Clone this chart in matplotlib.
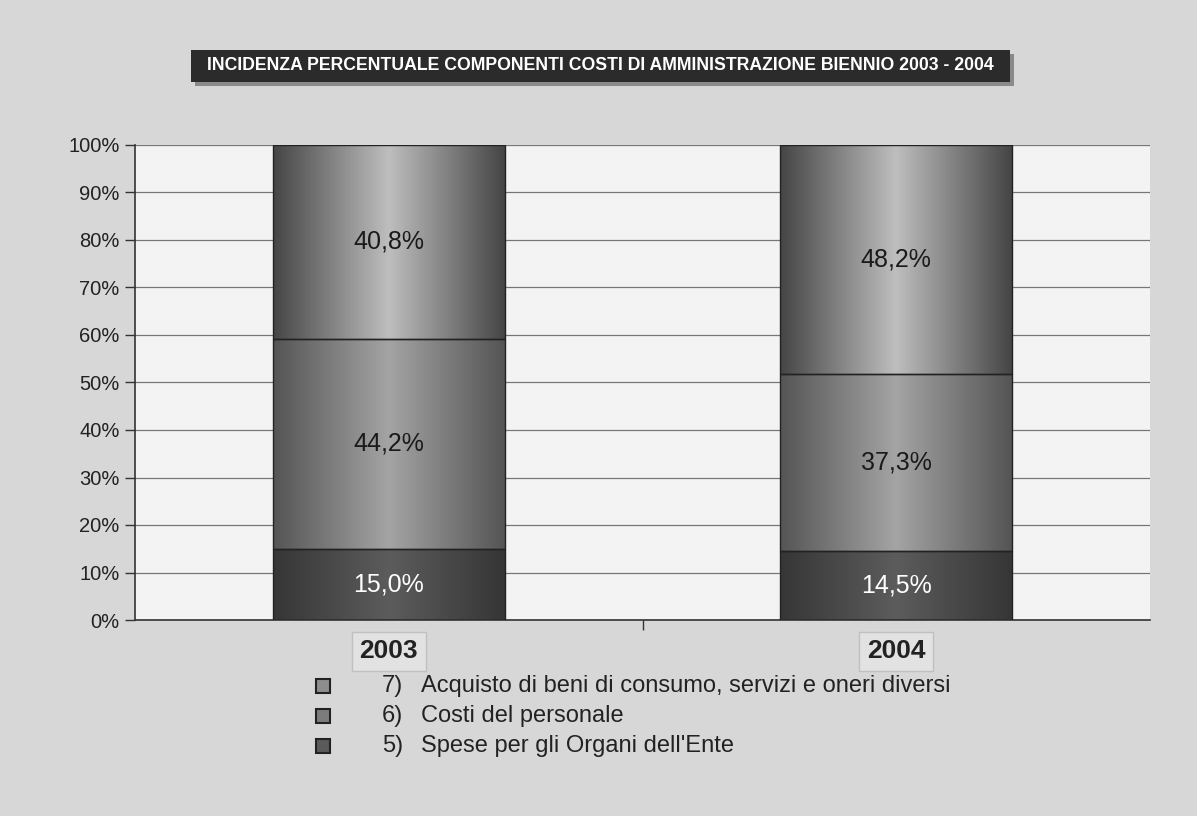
import numpy as np
import matplotlib
matplotlib.use("Agg")
import matplotlib.pyplot as plt
from matplotlib.colors import LinearSegmentedColormap
from matplotlib.patches import Rectangle

# dati
anni = ["2003", "2004"]
organi = [15.0, 14.5]          # 5) Spese per gli Organi dell'Ente
personale = [44.2, 37.3]       # 6) Costi del personale
acquisti = [40.8, 48.2]        # 7) Acquisto di beni di consumo, servizi e oneri diversi
voci = ["5)", "6)", "7)"]
etichette = ["Spese per gli Organi dell'Ente",
             "Costi del personale",
             "Acquisto di beni di consumo, servizi e oneri diversi"]

plt.rcParams['font.family'] = ['Liberation Sans', 'DejaVu Sans']

# sfumature orizzontali (bordi scuri, centro chiaro)
cmaps = [
    LinearSegmentedColormap.from_list("c5", ["#363636", "#5c5c5c", "#363636"]),
    LinearSegmentedColormap.from_list("c6", ["#555555", "#a4a4a4", "#555555"]),
    LinearSegmentedColormap.from_list("c7", ["#464646", "#bebebe", "#464646"]),
]
colori_testo = ["white", "#1a1a1a", "#1a1a1a"]
colori_legenda = ["#5a5a5a", "#7c7c7c", "#8e8e8e"]

fig = plt.figure(figsize=(11.97, 8.16), dpi=100)
fig.patch.set_facecolor("#d7d7d7")

W, H = 1197, 816
ax = fig.add_axes([135 / W, 1 - 620 / H, 1015 / W, 475 / H])
ax.set_facecolor("#f3f3f3")

x = np.arange(len(anni))
serie = [organi, personale, acquisti]
base = np.zeros(len(anni))
grad = np.linspace(0, 1, 200).reshape(1, -1)
for valori, cmap, ct in zip(serie, cmaps, colori_testo):
    barre = ax.bar(x, valori, width=0.457, bottom=base, color="none",
                   edgecolor="#222222", linewidth=1.0, zorder=3)
    for b, v in zip(barre, valori):
        x0, y0 = b.get_x(), b.get_y()
        im = ax.imshow(grad, cmap=cmap, aspect="auto", zorder=2,
                       extent=[x0, x0 + b.get_width(), y0, y0 + b.get_height()])
        im.set_clip_path(b)
        ax.text(x0 + b.get_width() / 2, y0 + v / 2, f"{v:.1f}%".replace(".", ","),
                ha="center", va="center", fontsize=18, color=ct, zorder=4)
    base = base + np.array(valori)

ax.set_xlim(-0.5, 1.5)
ax.set_ylim(0, 100)
ax.set_yticks(np.arange(0, 101, 10))
ax.set_yticklabels([f"{v}%" for v in range(0, 101, 10)], fontsize=14.5, color="#222222")
ax.yaxis.grid(True, color="#777777", linewidth=0.9, zorder=1)
ax.tick_params(axis="y", length=7, width=1, color="#333333", pad=4)

ax.set_xticks(x)
ax.set_xticklabels(anni, fontsize=19, fontweight="bold", color="#222222")
ax.tick_params(axis="x", which="major", length=0, pad=14)
for t in ax.get_xticklabels():
    t.set_bbox(dict(facecolor="#e2e2e2", edgecolor="#c0c0c0", boxstyle="square,pad=0.3"))
ax.set_xticks([0.5], minor=True)
ax.tick_params(axis="x", which="minor", length=7, width=1, color="#333333")

for s in ["top", "right"]:
    ax.spines[s].set_visible(False)
for s in ["left", "bottom"]:
    ax.spines[s].set_color("#333333")
    ax.spines[s].set_linewidth(1.2)

# titolo in riquadro scuro con ombra
fig.patches.append(Rectangle((195 / W, 1 - 86 / H), 819 / W, 32 / H,
                             transform=fig.transFigure, facecolor="#8a8a8a", edgecolor="none"))
fig.patches.append(Rectangle((191 / W, 1 - 82 / H), 819 / W, 32 / H,
                             transform=fig.transFigure, facecolor="#2b2b2b", edgecolor="none"))
fig.text(600 / W, 1 - 66 / H,
         "INCIDENZA PERCENTUALE COMPONENTI COSTI DI AMMINISTRAZIONE BIENNIO 2003 - 2004",
         ha="center", va="center", fontsize=12.7, fontweight="bold", color="white")

# legenda
righe_y = [746, 716, 686]
for i in range(len(voci)):
    yy = righe_y[i]
    fig.patches.append(Rectangle((316 / W, 1 - (yy + 7) / H), 14 / W, 14 / H,
                                 transform=fig.transFigure, facecolor=colori_legenda[i],
                                 edgecolor="#222222", linewidth=1.5))
    fig.text(403 / W, 1 - yy / H, voci[i], ha="right", va="center",
             fontsize=17, color="#222222")
    fig.text(421 / W, 1 - yy / H, etichette[i], ha="left", va="center",
             fontsize=17, color="#222222")

fig.savefig("out.png", dpi=100, facecolor=fig.get_facecolor())
